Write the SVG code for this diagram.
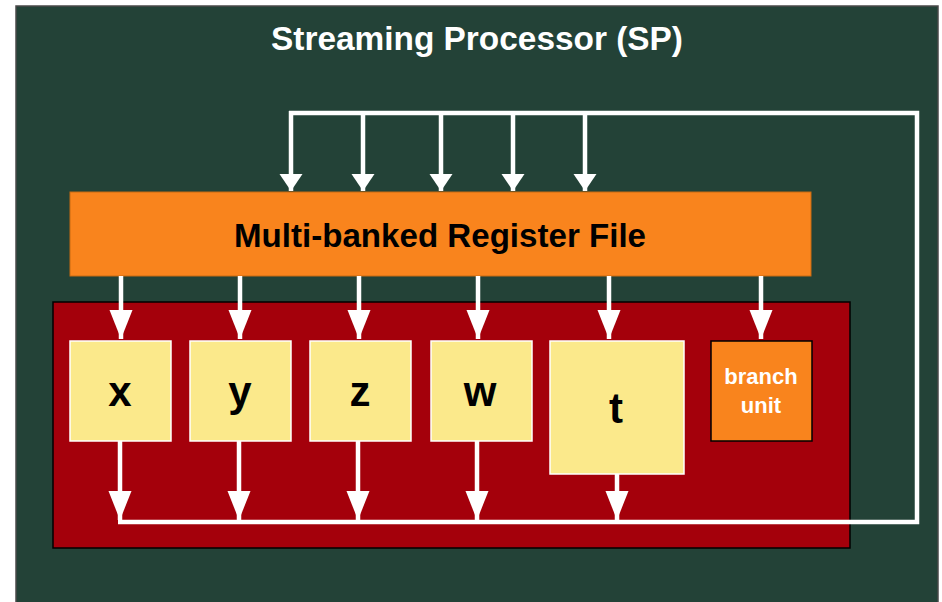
<svg xmlns="http://www.w3.org/2000/svg" width="942" height="602" viewBox="0 0 942 602">
<style>
.lbl{font-family:"Liberation Sans",Arial,sans-serif;font-weight:bold;text-anchor:middle}
.unit{fill:#fbe98b;stroke:#ffffff;stroke-width:1.5}
.conn{stroke:#ffffff;stroke-width:4.5;fill:none}
</style>
<defs>
<marker id="hs" viewBox="0 -12 17 24" markerWidth="17" markerHeight="24" refX="17" refY="0" orient="auto" markerUnits="userSpaceOnUse"><path d="M0,-11.5 L17,0 L0,11.5 z" fill="#ffffff"/></marker>
<marker id="hl" viewBox="0 -12 29 24" markerWidth="29" markerHeight="24" refX="29" refY="0" orient="auto" markerUnits="userSpaceOnUse"><path d="M0,-11.5 L29,0 L0,11.5 z" fill="#ffffff"/></marker>
</defs>
<rect x="0" y="0" width="942" height="602" fill="#ffffff"/>
<g id="sp">
<rect x="16" y="6" width="922" height="600" fill="#234237" stroke="#4a4a4a" stroke-width="1.5"/>
<text class="lbl" x="477" y="50" font-size="33" fill="#ffffff" textLength="412" lengthAdjust="spacingAndGlyphs">Streaming Processor (SP)</text>
</g>
<g id="register-file">
<rect x="70" y="192" width="741" height="84" fill="#f9841d" stroke="#c86a12" stroke-width="1"/>
<text class="lbl" x="440" y="247" font-size="33" fill="#000000" textLength="412" lengthAdjust="spacingAndGlyphs">Multi-banked Register File</text>
</g>
<g id="alu-block">
<rect x="53" y="302" width="797" height="246" fill="#a4000b" stroke="#000000" stroke-width="1.5"/>
</g>
<g id="unit-x">
<rect class="unit" x="70" y="341" width="101" height="100"/>
<text class="lbl" x="120" y="406" font-size="42" fill="#000000">x</text>
</g>
<g id="unit-y">
<rect class="unit" x="190" y="341" width="101" height="100"/>
<text class="lbl" x="240" y="406" font-size="42" fill="#000000">y</text>
</g>
<g id="unit-z">
<rect class="unit" x="310" y="341" width="101" height="100"/>
<text class="lbl" x="360" y="406" font-size="42" fill="#000000">z</text>
</g>
<g id="unit-w">
<rect class="unit" x="431" y="341" width="101" height="100"/>
<text class="lbl" x="480" y="406" font-size="42" fill="#000000">w</text>
</g>
<g id="unit-t">
<rect class="unit" x="550" y="341" width="134" height="133"/>
<text class="lbl" x="616" y="423" font-size="42" fill="#000000">t</text>
</g>
<g id="branch-unit">
<rect x="711" y="341" width="101" height="100" fill="#f9841d" stroke="#000000" stroke-width="1.5"/>
<text class="lbl" x="761" y="384" font-size="22" fill="#ffffff">branch</text>
<text class="lbl" x="761" y="413" font-size="22" fill="#ffffff">unit</text>
</g>
<g id="connectors">
<polyline class="conn" points="118,522 917,522 917,113 289,113"/>
<line class="conn" x1="291" y1="111" x2="291" y2="191" marker-end="url(#hs)"/>
<line class="conn" x1="363" y1="113" x2="363" y2="191" marker-end="url(#hs)"/>
<line class="conn" x1="441" y1="113" x2="441" y2="191" marker-end="url(#hs)"/>
<line class="conn" x1="513" y1="113" x2="513" y2="191" marker-end="url(#hs)"/>
<line class="conn" x1="585" y1="113" x2="585" y2="191" marker-end="url(#hs)"/>
<line class="conn" x1="121" y1="276" x2="121" y2="339" marker-end="url(#hl)"/>
<line class="conn" x1="240" y1="276" x2="240" y2="339" marker-end="url(#hl)"/>
<line class="conn" x1="359" y1="276" x2="359" y2="339" marker-end="url(#hl)"/>
<line class="conn" x1="478" y1="276" x2="478" y2="339" marker-end="url(#hl)"/>
<line class="conn" x1="609" y1="276" x2="609" y2="339" marker-end="url(#hl)"/>
<line class="conn" x1="761" y1="276" x2="761" y2="339" marker-end="url(#hl)"/>
<line class="conn" x1="120" y1="441" x2="120" y2="520" marker-end="url(#hl)"/>
<line class="conn" x1="239" y1="441" x2="239" y2="520" marker-end="url(#hl)"/>
<line class="conn" x1="358" y1="441" x2="358" y2="520" marker-end="url(#hl)"/>
<line class="conn" x1="477" y1="441" x2="477" y2="520" marker-end="url(#hl)"/>
<line class="conn" x1="617" y1="474" x2="617" y2="520" marker-end="url(#hl)"/>
</g>
</svg>
